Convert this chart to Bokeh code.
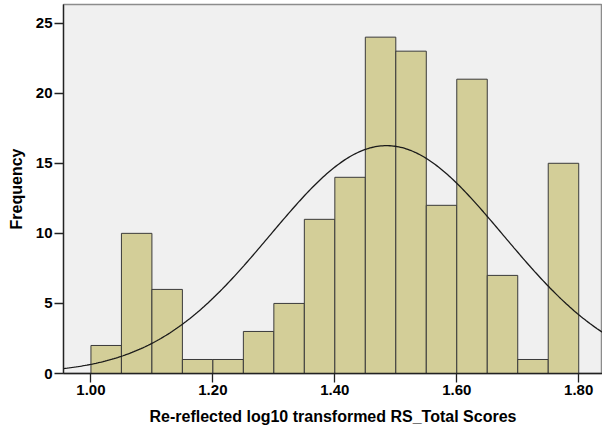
from bokeh.plotting import figure
from bokeh.models import Range1d, FixedTicker, NumeralTickFormatter, ColumnDataSource
from bokeh.embed import file_html
from bokeh.resources import INLINE
import numpy as np

# Histogram bins (left edges) and frequencies
bin_left = [1.00, 1.05, 1.10, 1.15, 1.20, 1.25, 1.30, 1.35, 1.40, 1.45, 1.50, 1.55, 1.60, 1.65, 1.70, 1.75]
bin_width = 0.05
frequency = [2, 10, 6, 1, 1, 3, 5, 11, 14, 24, 23, 12, 21, 7, 1, 15]

# Normal curve parameters
mean_value = 1.485
std_dev = 0.1914
n_total = sum(frequency)

x_ticks = [1.00, 1.20, 1.40, 1.60, 1.80]
y_ticks = [0, 5, 10, 15, 20, 25]

FONT = "Liberation Sans"

p = figure(width=602, height=428, output_backend="svg", toolbar_location=None,
           x_range=Range1d(0.955, 1.839), y_range=Range1d(0, 26.33),
           min_border_left=63, min_border_right=0, min_border_top=4, min_border_bottom=55)

p.background_fill_color = "#F0F0F0"
p.border_fill_color = "white"
p.outline_line_color = "#8C8C8C"
p.outline_line_width = 1.5
p.xgrid.visible = False
p.ygrid.visible = False

src = ColumnDataSource(dict(
    left=bin_left,
    right=[b + bin_width for b in bin_left],
    top=frequency,
    bottom=[0] * len(frequency),
))
p.quad(left="left", right="right", top="top", bottom="bottom", source=src,
       fill_color="#D3CE98", line_color="#3A3A3A", line_width=1)

xs = np.linspace(0.955, 1.839, 300)
ys = n_total * bin_width / (std_dev * np.sqrt(2 * np.pi)) * np.exp(-0.5 * ((xs - mean_value) / std_dev) ** 2)
p.line(xs, ys, line_color="#1A1A1A", line_width=1.3)

for ax in (p.xaxis[0], p.yaxis[0]):
    ax.major_label_text_font = FONT
    ax.major_label_text_font_size = "15px"
    ax.major_label_text_font_style = "bold"
    ax.major_label_text_color = "black"
    ax.axis_label_text_font = FONT
    ax.axis_label_text_font_size = "16px"
    ax.axis_label_text_font_style = "bold"
    ax.axis_label_text_color = "black"
    ax.axis_line_color = "#222222"
    ax.axis_line_width = 1.3
    ax.major_tick_line_color = "#222222"
    ax.major_tick_line_width = 1.3
    ax.major_tick_out = 9
    ax.major_tick_in = 0
    ax.minor_tick_line_color = None

p.xaxis.ticker = FixedTicker(ticks=x_ticks)
p.xaxis.formatter = NumeralTickFormatter(format="0.00")
p.xaxis.axis_label = "Re-reflected log10 transformed RS_Total Scores"
p.xaxis.major_label_standoff = 2
p.xaxis.axis_label_standoff = 10

p.yaxis.ticker = FixedTicker(ticks=y_ticks)
p.yaxis.axis_label = "Frequency"
p.yaxis.major_label_standoff = 2
p.yaxis.axis_label_standoff = 8

open("out.html", "w").write(file_html(p, INLINE))
